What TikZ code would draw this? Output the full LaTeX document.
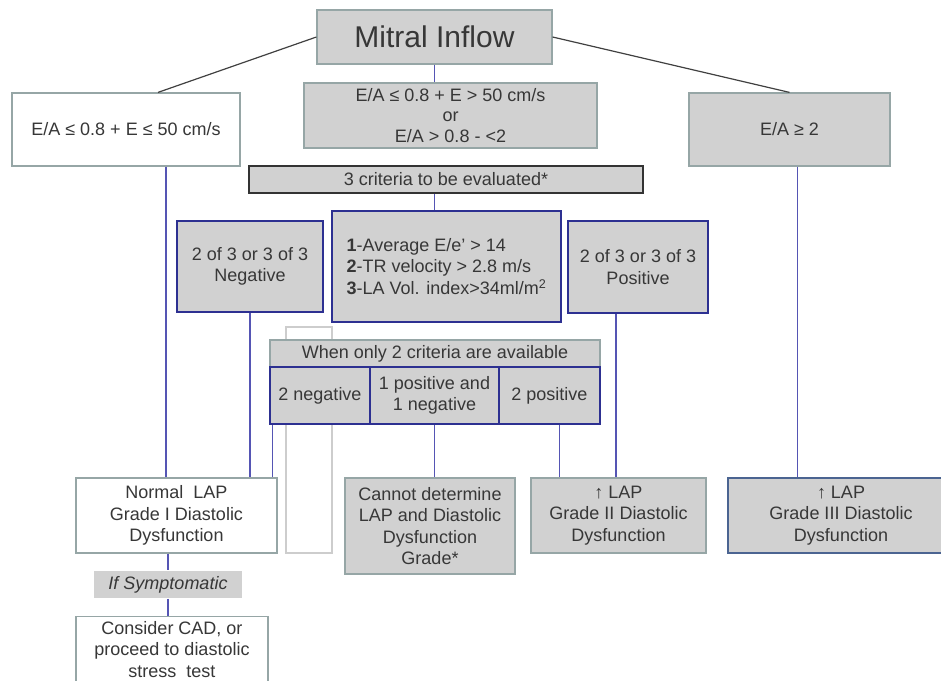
\documentclass[tikz,border=0pt]{standalone}
\usepackage{fontspec}
\setmainfont{Liberation Sans}
\usepackage{xcolor}
\usepackage{tikz}
\usetikzlibrary{positioning, calc}
\definecolor{boxgray}{RGB}{209,209,209}
\definecolor{edgegray}{RGB}{150,166,166}
\definecolor{darkblue}{RGB}{45,48,145}
\definecolor{linkblue}{RGB}{85,85,180}
\definecolor{txtgray}{RGB}{55,55,55}
\definecolor{steelblue}{RGB}{75,100,145}
\definecolor{ghostgray}{RGB}{205,205,205}

\begin{document}
\begin{tikzpicture}[x=1pt, y=-1pt,
    box/.style={rectangle, draw=edgegray, fill=boxgray, line width=1.2pt, inner sep=2pt, align=center, text=txtgray, font=\fontsize{18}{21.5}\selectfont},
    whitebox/.style={box, fill=white},
    navybox/.style={box, draw=darkblue, line width=2.9pt},
    link/.style={draw=linkblue, line width=1.6pt},
    stem/.style={draw=black!75, line width=1.2pt}
]
    \useasboundingbox (0,0) rectangle (941,680);
    \clip (0,0) rectangle (941,680);

    % Top
    \node[box, minimum width=235, minimum height=54, font=\fontsize{30}{36}\selectfont] (mitral) at (434.5,37) {Mitral Inflow};

    % First split
    \node[whitebox, minimum width=228, minimum height=73] (ealow) at (126,129.5) {E/A ≤ 0.8 + E ≤ 50 cm/s};
    \node[box, minimum width=293, minimum height=65, font=\fontsize{18}{20.5}\selectfont] (eamid) at (450.5,115.5) {E/A ≤ 0.8 + E > 50 cm/s\\or\\E/A > 0.8 - <2};
    \node[box, minimum width=201, minimum height=73] (eahigh) at (789.5,129.5) {E/A ≥ 2};

    % Criteria
    \node[box, draw=black!80, line width=2.4pt, minimum width=394, minimum height=27] (crit) at (446,179.5) {3 criteria to be evaluated*};
    \node[navybox, minimum width=146, minimum height=91] (neg3) at (250,266.5) {2 of 3 or 3 of 3\\Negative};
    \node[navybox, minimum width=229, minimum height=111, align=left] (list) at (446.5,266.5) {\textbf{1}-Average E/e' > 14\\\textbf{2}-TR velocity > 2.8 m/s\\\textbf{3}-LA Vol. index>34ml/m\textsuperscript{2}};
    \node[navybox, minimum width=140, minimum height=92] (pos3) at (638,267) {2 of 3 or 3 of 3\\Positive};

    % Empty frame behind the two criteria block
    \node[draw=ghostgray, line width=1.2pt, fill=white, minimum width=46, minimum height=226, inner sep=0pt] (ghost) at (309,440) {};

    % Two criteria
    \node[box, minimum width=330, minimum height=27] (only2) at (435,353.5) {When only 2 criteria are available};
    \node[navybox, minimum width=100, minimum height=57] (neg2) at (320,395.5) {2 negative};
    \node[navybox, minimum width=129, minimum height=57] (mixed) at (434.5,395.5) {1 positive and\\1 negative};
    \node[navybox, minimum width=101, minimum height=57] (pos2) at (549.5,395.5) {2 positive};

    % Outcomes
    \node[whitebox, minimum width=201, minimum height=75] (normal) at (176.5,515.5) {Normal \ LAP\\Grade I Diastolic\\Dysfunction};
    \node[box, minimum width=170, minimum height=96] (cannot) at (430,526) {Cannot determine\\LAP and Diastolic\\Dysfunction\\Grade*};
    \node[box, minimum width=175, minimum height=75] (grade2) at (618.5,515.5) {↑ LAP\\Grade II Diastolic\\Dysfunction};
    \node[box, draw=steelblue, line width=2pt, minimum width=226, minimum height=75] (grade3) at (841,515.5) {↑ LAP\\Grade III Diastolic\\Dysfunction};

    % Follow-up
    \node[box, draw=none, minimum width=148, minimum height=27, font=\fontsize{18}{21.5}\selectfont\itshape] (symp) at (168,584.5) {If Symptomatic};
    \node[whitebox, anchor=north, minimum width=192, inner ysep=4.5pt] (cad) at (172,616) {Consider CAD, or\\proceed to diastolic\\stress \ test};

    % Connectors
    \draw[stem] (mitral.west) -- ([xshift=32]ealow.north);
    \draw[stem] (mitral.east) -- (eahigh.north);
    \draw[link] (mitral.south) -- (mitral.south |- eamid.north);
    \draw[link] (mitral.south |- crit.south) -- (mitral.south |- list.north);
    \draw[link] ([xshift=40]ealow.south) -- ([xshift=40]ealow.south |- normal.north);
    \draw[link] (neg3.south) -- (neg3.south |- normal.north);
    \draw[link] ([xshift=4]neg2.south west) -- ([xshift=4]neg2.south west |- normal.north);
    \draw[link] (mixed.south) -- (mixed.south |- cannot.north);
    \draw[link] ([xshift=10]pos2.south) -- ([xshift=10]pos2.south |- grade2.north);
    \draw[link] ([xshift=-22]pos3.south) -- ([xshift=-22]pos3.south |- grade2.north);
    \draw[link] ([xshift=8]eahigh.south) -- ([xshift=8]eahigh.south |- grade3.north);
    \draw[link] (symp.north |- normal.south) -- (symp.north);
    \draw[link] (symp.south) -- (symp.south |- cad.north);

\end{tikzpicture}
\end{document}
